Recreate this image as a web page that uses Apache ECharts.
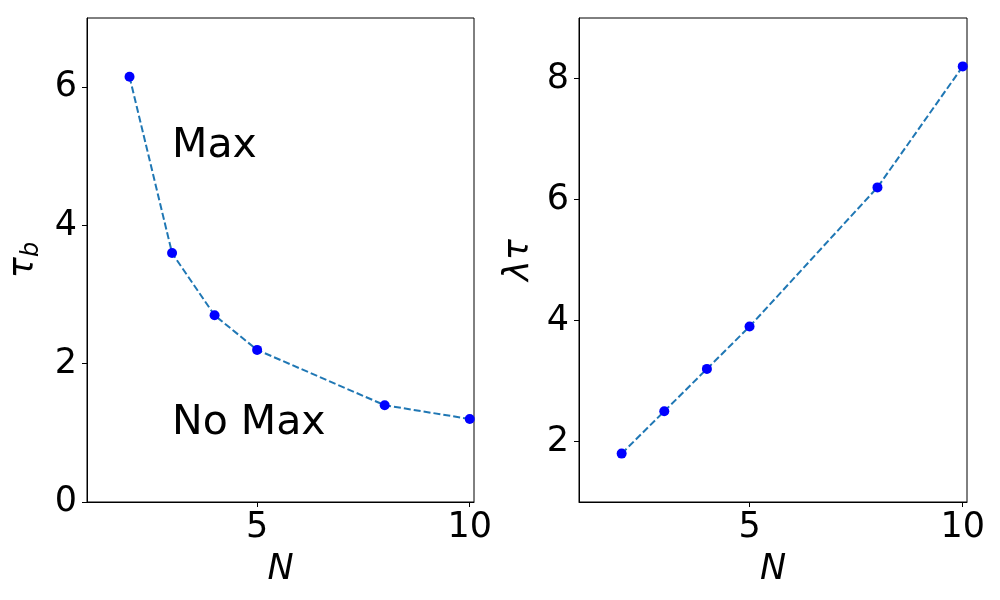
<!DOCTYPE html>
<html>
<head>
<meta charset="utf-8">
<script src="https://cdn.jsdelivr.net/npm/echarts@6/dist/echarts.min.js"></script>
<style>
  html, body { margin: 0; padding: 0; background: #fff; }
  #main { width: 1000px; height: 600px; }
</style>
</head>
<body>
<div id="main"></div>
<script>
// data
var nValues = [2, 3, 4, 5, 8, 10];
var tauB = [6.15, 3.6, 2.7, 2.2, 1.4, 1.2];
var lambdaTau = [1.8, 2.5, 3.2, 3.9, 6.2, 8.2];
var xTicks = [5, 10];
var leftYTicks = [0, 2, 4, 6];
var rightYTicks = [2, 4, 6, 8];
var regionLabels = [[3, 5, 'Max'], [3, 1, 'No Max']];

var FONT = 'DejaVu Sans';

function pairs(xs, ys) {
  return xs.map(function (x, i) { return [x, ys[i]]; });
}

function xAxisCfg(idx) {
  return {
    type: 'value',
    gridIndex: idx,
    min: 1,
    max: 10.1,
    name: 'N',
    nameLocation: 'middle',
    nameGap: 50,
    nameTextStyle: { fontFamily: FONT, fontSize: 35, fontStyle: 'italic', color: '#000' },
    axisLine: { show: true, onZero: false, lineStyle: { color: '#000', width: 1 } },
    axisTick: { show: true, customValues: xTicks, length: 5, lineStyle: { color: '#000' } },
    axisLabel: { customValues: xTicks, fontFamily: FONT, fontSize: 35, color: '#000', margin: 8 },
    splitLine: { show: false }
  };
}

function yAxisCfg(idx, min, max, ticks, name, rich) {
  return {
    type: 'value',
    gridIndex: idx,
    min: min,
    max: max,
    name: name,
    nameLocation: 'middle',
    nameRotate: 90,
    nameGap: 43,
    nameTextStyle: { fontFamily: FONT, fontSize: 35, fontStyle: 'italic', color: '#000', rich: rich },
    axisLine: { show: true, onZero: false, lineStyle: { color: '#000', width: 1 } },
    axisTick: { show: true, customValues: ticks, length: 5, lineStyle: { color: '#000' } },
    axisLabel: { customValues: ticks, fontFamily: FONT, fontSize: 35, color: '#000', margin: 10, padding: [6, 0, 0, 0] },
    splitLine: { show: false }
  };
}

function lineSeries(idx, data) {
  return {
    type: 'line',
    xAxisIndex: idx,
    yAxisIndex: idx,
    data: data,
    smooth: false,
    showSymbol: false,
    silent: true,
    lineStyle: { color: '#1f77b4', width: 2, type: [7, 3] },
    z: 2
  };
}

function dotSeries(idx, data) {
  return {
    type: 'scatter',
    xAxisIndex: idx,
    yAxisIndex: idx,
    data: data,
    symbol: 'circle',
    symbolSize: 10,
    itemStyle: { color: '#0000ff', opacity: 1 },
    z: 3
  };
}

var chart = echarts.init(document.getElementById('main'), null, { renderer: 'canvas' });

var option = {
  backgroundColor: '#fff',
  animation: false,
  grid: [
    { left: 87, top: 18, width: 387, height: 484, show: true, borderColor: '#000', borderWidth: 1, backgroundColor: 'transparent' },
    { left: 579, top: 18, width: 388, height: 484, show: true, borderColor: '#000', borderWidth: 1, backgroundColor: 'transparent' }
  ],
  xAxis: [xAxisCfg(0), xAxisCfg(1)],
  yAxis: [
    yAxisCfg(0, 0, 7, leftYTicks, '{t|τ}{s|b}', {
      t: { fontFamily: FONT, fontSize: 35, fontStyle: 'italic', color: '#000' },
      s: { fontFamily: FONT, fontSize: 24, fontStyle: 'italic', color: '#000', verticalAlign: 'bottom', padding: [16, 0, 0, 0] }
    }),
    yAxisCfg(1, 1, 9, rightYTicks, 'λτ', null)
  ],
  series: [
    lineSeries(0, pairs(nValues, tauB)),
    dotSeries(0, pairs(nValues, tauB)),
    lineSeries(1, pairs(nValues, lambdaTau)),
    dotSeries(1, pairs(nValues, lambdaTau)),
    {
      type: 'scatter',
      xAxisIndex: 0,
      yAxisIndex: 0,
      data: regionLabels,
      symbolSize: 0,
      silent: true,
      itemStyle: { opacity: 1 },
      label: {
        show: true,
        position: [0, 0],
        align: 'left',
        verticalAlign: 'middle',
        offset: [0, -10],
        fontFamily: FONT,
        fontSize: 41,
        color: '#000',
        formatter: function (p) { return p.data[2]; }
      }
    }
  ]
};

chart.setOption(option);
</script>
</body>
</html>
